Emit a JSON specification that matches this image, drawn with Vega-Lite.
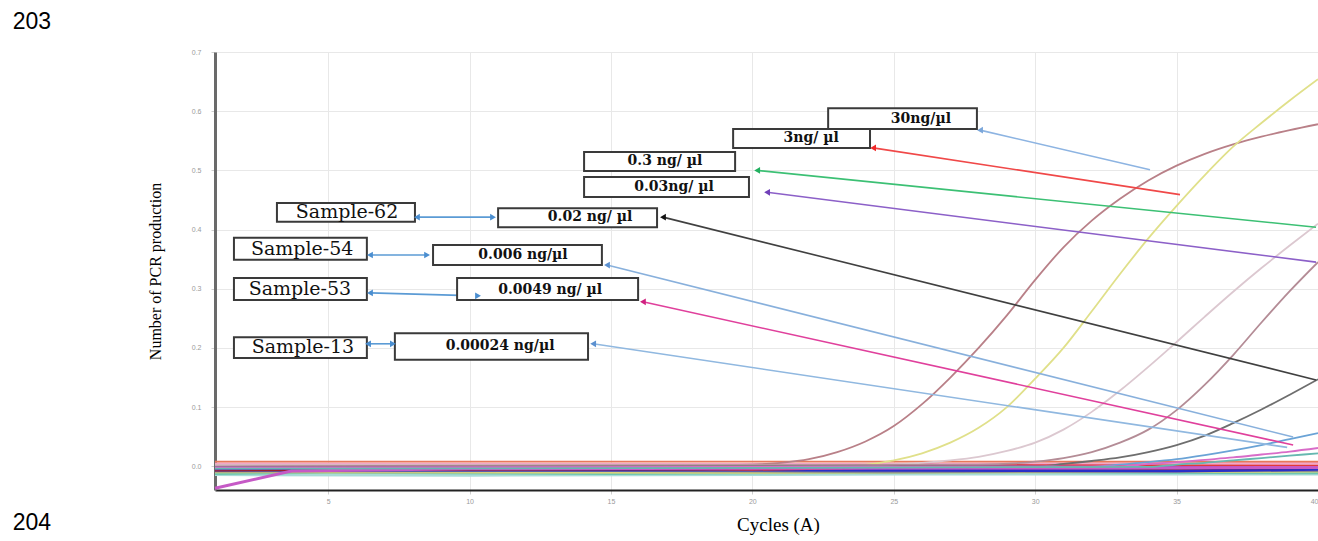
{
  "$schema": "https://vega.github.io/schema/vega-lite/v6.json",
  "width": 1103,
  "height": 438,
  "autosize": {"type": "none"},
  "padding": {"left": 215, "top": 52, "right": 0, "bottom": 51},
  "background": "white",
  "config": {"view": {"stroke": null}, "font": "Liberation Serif"},
  "datasets": {
    "curves": [
      {"s":"C0","c":1,"v":0.008},{"s":"C0","c":40,"v":0.008},
      {"s":"C1","c":1,"v":0.002},{"s":"C1","c":10,"v":0.002},{"s":"C1","c":18,"v":0.002},{"s":"C1","c":20,"v":0.003},{"s":"C1","c":21,"v":0.006},{"s":"C1","c":22,"v":0.012},{"s":"C1","c":23,"v":0.024},{"s":"C1","c":24,"v":0.042},{"s":"C1","c":25,"v":0.068},{"s":"C1","c":26,"v":0.105},{"s":"C1","c":27,"v":0.15},{"s":"C1","c":28,"v":0.2},{"s":"C1","c":29,"v":0.255},{"s":"C1","c":30,"v":0.315},{"s":"C1","c":31,"v":0.37},{"s":"C1","c":32,"v":0.415},{"s":"C1","c":33,"v":0.452},{"s":"C1","c":34,"v":0.483},{"s":"C1","c":35,"v":0.508},{"s":"C1","c":36,"v":0.528},{"s":"C1","c":37,"v":0.544},{"s":"C1","c":38,"v":0.557},{"s":"C1","c":39,"v":0.568},{"s":"C1","c":40,"v":0.578},
      {"s":"C2","c":1,"v":0.0},{"s":"C2","c":20,"v":0.0},{"s":"C2","c":24,"v":0.003},{"s":"C2","c":25,"v":0.01},{"s":"C2","c":26,"v":0.022},{"s":"C2","c":27,"v":0.04},{"s":"C2","c":28,"v":0.065},{"s":"C2","c":29,"v":0.1},{"s":"C2","c":30,"v":0.148},{"s":"C2","c":31,"v":0.2},{"s":"C2","c":32,"v":0.262},{"s":"C2","c":33,"v":0.325},{"s":"C2","c":34,"v":0.385},{"s":"C2","c":35,"v":0.44},{"s":"C2","c":36,"v":0.492},{"s":"C2","c":37,"v":0.54},{"s":"C2","c":38,"v":0.58},{"s":"C2","c":39,"v":0.618},{"s":"C2","c":40,"v":0.654},
      {"s":"C3","c":1,"v":0.002},{"s":"C3","c":24,"v":0.002},{"s":"C3","c":26,"v":0.006},{"s":"C3","c":27,"v":0.01},{"s":"C3","c":28,"v":0.016},{"s":"C3","c":29,"v":0.026},{"s":"C3","c":30,"v":0.04},{"s":"C3","c":31,"v":0.062},{"s":"C3","c":32,"v":0.092},{"s":"C3","c":33,"v":0.128},{"s":"C3","c":34,"v":0.168},{"s":"C3","c":35,"v":0.21},{"s":"C3","c":36,"v":0.253},{"s":"C3","c":37,"v":0.295},{"s":"C3","c":38,"v":0.335},{"s":"C3","c":39,"v":0.373},{"s":"C3","c":40,"v":0.41},
      {"s":"C4","c":1,"v":0.0},{"s":"C4","c":28,"v":0.003},{"s":"C4","c":30,"v":0.008},{"s":"C4","c":31,"v":0.014},{"s":"C4","c":32,"v":0.024},{"s":"C4","c":33,"v":0.04},{"s":"C4","c":34,"v":0.062},{"s":"C4","c":35,"v":0.095},{"s":"C4","c":36,"v":0.138},{"s":"C4","c":37,"v":0.188},{"s":"C4","c":38,"v":0.243},{"s":"C4","c":39,"v":0.296},{"s":"C4","c":40,"v":0.345},
      {"s":"C5","c":1,"v":-0.001},{"s":"C5","c":30,"v":0.0},{"s":"C5","c":31,"v":0.004},{"s":"C5","c":32,"v":0.009},{"s":"C5","c":33,"v":0.015},{"s":"C5","c":34,"v":0.024},{"s":"C5","c":35,"v":0.036},{"s":"C5","c":36,"v":0.052},{"s":"C5","c":37,"v":0.073},{"s":"C5","c":38,"v":0.096},{"s":"C5","c":39,"v":0.121},{"s":"C5","c":40,"v":0.147},
      {"s":"C6","c":1,"v":-0.003},{"s":"C6","c":32,"v":-0.001},{"s":"C6","c":33,"v":0.003},{"s":"C6","c":34,"v":0.007},{"s":"C6","c":35,"v":0.012},{"s":"C6","c":36,"v":0.019},{"s":"C6","c":37,"v":0.027},{"s":"C6","c":38,"v":0.036},{"s":"C6","c":39,"v":0.046},{"s":"C6","c":40,"v":0.056},
      {"s":"C7","c":1,"v":-0.002},{"s":"C7","c":33,"v":0.0},{"s":"C7","c":34,"v":0.004},{"s":"C7","c":35,"v":0.007},{"s":"C7","c":36,"v":0.011},{"s":"C7","c":37,"v":0.015},{"s":"C7","c":38,"v":0.02},{"s":"C7","c":39,"v":0.025},{"s":"C7","c":40,"v":0.031},
      {"s":"C8","c":1,"v":-0.004},{"s":"C8","c":34,"v":-0.001},{"s":"C8","c":35,"v":0.003},{"s":"C8","c":36,"v":0.006},{"s":"C8","c":37,"v":0.01},{"s":"C8","c":38,"v":0.014},{"s":"C8","c":39,"v":0.018},{"s":"C8","c":40,"v":0.022}
    ],
    "base": [
      {"s":"b7","c":1,"v":-0.014},{"s":"b7","c":10,"v":-0.015},{"s":"b7","c":25,"v":-0.013},{"s":"b7","c":40,"v":-0.013},
      {"s":"b6","c":1,"v":-0.012},{"s":"b6","c":5,"v":-0.01},{"s":"b6","c":15,"v":-0.012},{"s":"b6","c":30,"v":-0.009},{"s":"b6","c":40,"v":-0.011},
      {"s":"b11","c":1,"v":-0.009},{"s":"b11","c":20,"v":-0.01},{"s":"b11","c":40,"v":-0.008},
      {"s":"b8","c":1,"v":-0.008},{"s":"b8","c":15,"v":-0.007},{"s":"b8","c":25,"v":-0.009},{"s":"b8","c":40,"v":-0.007},
      {"s":"b9","c":1,"v":-0.003},{"s":"b9","c":15,"v":-0.004},{"s":"b9","c":28,"v":-0.006},{"s":"b9","c":40,"v":-0.004},
      {"s":"b10","c":1,"v":0.004},{"s":"b10","c":20,"v":0.003},{"s":"b10","c":40,"v":0.005},
      {"s":"b5","c":1,"v":-0.006},{"s":"b5","c":20,"v":-0.006},{"s":"b5","c":35,"v":-0.008},{"s":"b5","c":40,"v":-0.005},
      {"s":"b4","c":1,"v":0.0},{"s":"b4","c":12,"v":-0.003},{"s":"b4","c":20,"v":-0.005},{"s":"b4","c":28,"v":0.001},{"s":"b4","c":40,"v":0.0},
      {"s":"b3","c":1,"v":-0.006},{"s":"b3","c":10,"v":-0.005},{"s":"b3","c":18,"v":-0.004},{"s":"b3","c":26,"v":0.002},{"s":"b3","c":34,"v":-0.003},{"s":"b3","c":40,"v":-0.002},
      {"s":"b2","c":1,"v":-0.004},{"s":"b2","c":8,"v":-0.002},{"s":"b2","c":14,"v":0.0},{"s":"b2","c":22,"v":-0.001},{"s":"b2","c":30,"v":-0.003},{"s":"b2","c":40,"v":-0.002},
      {"s":"m0","c":1,"v":-0.037},{"s":"m0","c":3.7,"v":-0.008},{"s":"m0","c":10,"v":-0.004},{"s":"m0","c":40,"v":-0.002}
    ],
    "arrows": [
      {"a":"A1","c":34.06,"v":0.501,"c2":28.05,"v2":0.568},
      {"a":"A2","c":35.12,"v":0.459,"c2":24.27,"v2":0.538},
      {"a":"A3","c":39.93,"v":0.404,"c2":20.17,"v2":0.5},
      {"a":"A4","c":39.93,"v":0.345,"c2":20.52,"v2":0.463},
      {"a":"A5","c":39.93,"v":0.146,"c2":16.84,"v2":0.421},
      {"a":"A6","c":39.12,"v":0.0495,"c2":14.86,"v2":0.34},
      {"a":"A7","c":39.12,"v":0.036,"c2":16.13,"v2":0.278},
      {"a":"A8","c":38.91,"v":0.032,"c2":14.37,"v2":0.207},
      {"a":"D","c":8.14,"v":0.421,"c2":10.83,"v2":0.421},
      {"a":"D","c":6.48,"v":0.357,"c2":8.5,"v2":0.357},
      {"a":"D","c":6.48,"v":0.293,"c2":10.3,"v2":0.288},
      {"a":"D","c":6.41,"v":0.207,"c2":7.29,"v2":0.207}
    ],
    "heads": [
      {"a":"A1","c":28.05,"v":0.568,"d":"L"},
      {"a":"A2","c":24.27,"v":0.538,"d":"L"},
      {"a":"A3","c":20.17,"v":0.5,"d":"L"},
      {"a":"A4","c":20.52,"v":0.463,"d":"L"},
      {"a":"A5","c":16.84,"v":0.421,"d":"L"},
      {"a":"A6","c":14.86,"v":0.34,"d":"L"},
      {"a":"A7","c":16.13,"v":0.278,"d":"L"},
      {"a":"A8","c":14.37,"v":0.207,"d":"L"},
      {"a":"D","c":8.14,"v":0.421,"d":"L"},
      {"a":"D","c":10.83,"v":0.421,"d":"R"},
      {"a":"D","c":6.48,"v":0.357,"d":"L"},
      {"a":"D","c":8.5,"v":0.357,"d":"R"},
      {"a":"D","c":6.48,"v":0.293,"d":"L"},
      {"a":"D","c":10.3,"v":0.288,"d":"R"},
      {"a":"D","c":6.41,"v":0.207,"d":"L"},
      {"a":"D","c":7.29,"v":0.207,"d":"R"}
    ],
    "boxes": [
      {"k":"30","c":22.68,"v":0.605,"c2":27.94,"v2":0.57},
      {"k":"3","c":19.32,"v":0.57,"c2":24.16,"v2":0.538},
      {"k":"0.3","c":14.05,"v":0.531,"c2":19.39,"v2":0.499},
      {"k":"0.03","c":14.05,"v":0.489,"c2":19.88,"v2":0.455},
      {"k":"0.02","c":11.01,"v":0.436,"c2":16.63,"v2":0.404},
      {"k":"S62","c":3.19,"v":0.445,"c2":8.07,"v2":0.413},
      {"k":"S54","c":1.67,"v":0.386,"c2":6.37,"v2":0.349},
      {"k":"0.006","c":8.71,"v":0.374,"c2":14.68,"v2":0.34},
      {"k":"S53","c":1.67,"v":0.318,"c2":6.37,"v2":0.281},
      {"k":"0.0049","c":9.56,"v":0.318,"c2":15.96,"v2":0.281},
      {"k":"S13","c":1.67,"v":0.218,"c2":6.37,"v2":0.183},
      {"k":"0.00024","c":7.36,"v":0.225,"c2":14.19,"v2":0.18}
    ],
    "numlabels": [
      {"label":"30ng/µl","c":25.96,"v":0.587},
      {"label":"3ng/ µl","c":22.08,"v":0.554},
      {"label":"0.3 ng/ µl","c":16.91,"v":0.516},
      {"label":"0.03ng/ µl","c":17.23,"v":0.472},
      {"label":"0.02 ng/ µl","c":14.26,"v":0.421},
      {"label":"0.006 ng/µl","c":11.89,"v":0.357},
      {"label":"0.0049  ng/ µl","c":12.85,"v":0.298},
      {"label":"0.00024 ng/µl","c":11.08,"v":0.203}
    ],
    "samplelabels": [
      {"label":"Sample-62","c":5.67,"v":0.429},
      {"label":"Sample-54","c":4.08,"v":0.367},
      {"label":"Sample-53","c":4.0,"v":0.3},
      {"label":"Sample-13","c":4.11,"v":0.201}
    ],
    "pages": [
      {"label":"203","c":-6.15,"v":0.7506},
      {"label":"204","c":-6.15,"v":-0.0957}
    ]
  },
  "encoding": {
    "x": {
      "field": "c", "type": "quantitative",
      "scale": {"domain": [1, 40], "nice": false, "zero": false},
      "axis": {
        "title": "Cycles (A)", "values": [5, 10, 15, 20, 25, 30, 35, 40],
        "labelFontSize": 7, "labelColor": "#9a9a9a", "labelFont": "Liberation Sans", "labelPadding": 3,
        "tickColor": "#cfcfcf", "tickSize": 4,
        "domainColor": "#222222", "domainWidth": 2,
        "grid": true, "gridColor": "#e8e8e8",
        "titleFont": "Liberation Serif", "titleFontSize": 19, "titleFontWeight": "normal", "titleColor": "#000000",
        "titleX": 563, "titleY": 34, "titleBaseline": "middle", "titleAlign": "center"
      }
    },
    "y": {
      "field": "v", "type": "quantitative",
      "scale": {"domain": [-0.04, 0.7], "nice": false, "zero": false},
      "axis": {
        "title": "Number of PCR production", "values": [0, 0.1, 0.2, 0.3, 0.4, 0.5, 0.6, 0.7], "format": ".1f",
        "labelFontSize": 7, "labelColor": "#9a9a9a", "labelFont": "Liberation Sans", "labelPadding": 10,
        "tickColor": "#cfcfcf", "tickSize": 4,
        "domainColor": "#6a6a6a", "domainWidth": 3,
        "grid": true, "gridColor": "#e8e8e8",
        "titleFont": "Liberation Serif", "titleFontSize": 16, "titleFontWeight": "normal", "titleColor": "#000000",
        "titleX": -60, "titleY": 219, "titleAngle": -90, "titleBaseline": "middle", "titleAlign": "center"
      }
    }
  },
  "layer": [
    {
      "data": {"name": "base"},
      "mark": {"type": "line", "strokeWidth": 3},
      "encoding": {
        "color": {"field": "s", "type": "nominal", "legend": null,
          "scale": {"domain": ["b7","b6","b11","b8","b9","b10","b5","b4","b3","b2","m0"],
                    "range": ["#a8dcd8","#6cc6b0","#dcd27a","#8c8c8c","#f4a462","#f2a6c8","#2a30c8","#e23838","#9c2030","#6b2fb0","#c65ac6"]}}
      }
    },
    {
      "data": {"name": "curves"},
      "mark": {"type": "line", "strokeWidth": 1.8, "interpolate": "monotone"},
      "encoding": {
        "color": {"field": "s", "type": "nominal", "legend": null,
          "scale": {"domain": ["C0","C1","C2","C3","C4","C5","C6","C7","C8"],
                    "range": ["#e8785a","#b98088","#e0e08a","#dcc8d0","#b48c96","#6e6e6e","#6aa3d6","#d86cc8","#66b8b0"]}}
      }
    },
    {
      "data": {"name": "arrows"},
      "mark": {"type": "rule", "strokeWidth": 1.6},
      "encoding": {
        "x2": {"field": "c2"},
        "y2": {"field": "v2"},
        "color": {"field": "a", "type": "nominal", "legend": null,
          "scale": {"domain": ["A1","A2","A3","A4","A5","A6","A7","A8","D"],
                    "range": ["#8db4e2","#f04848","#3cc074","#8c60c8","#404040","#88b0dc","#e0409c","#90b8e0","#5b9bd5"]}}
      }
    },
    {
      "data": {"name": "boxes"},
      "mark": {"type": "rect", "fill": "#ffffff", "stroke": "#3a3a3a", "strokeWidth": 2},
      "encoding": {
        "x2": {"field": "c2"},
        "y2": {"field": "v2"}
      }
    },
    {
      "data": {"name": "heads"},
      "mark": {"type": "point", "filled": true, "size": 45, "opacity": 1},
      "encoding": {
        "shape": {"field": "d", "type": "nominal", "legend": null,
          "scale": {"domain": ["L","R"], "range": ["triangle-left","triangle-right"]}},
        "color": {"field": "a", "type": "nominal", "legend": null,
          "scale": {"domain": ["A1","A2","A3","A4","A5","A6","A7","A8","D"],
                    "range": ["#7aa6da","#f02828","#22b060","#7040b8","#111111","#5b90d0","#d0207f","#5b90d0","#4a8ed0"]}}
      }
    },
    {
      "data": {"name": "numlabels"},
      "mark": {"type": "text", "font": "DejaVu Serif", "fontWeight": "bold", "fontSize": 14, "align": "center", "baseline": "middle", "color": "#111111"},
      "encoding": {"text": {"field": "label"}}
    },
    {
      "data": {"name": "samplelabels"},
      "mark": {"type": "text", "font": "DejaVu Serif", "fontSize": 19, "align": "center", "baseline": "middle", "color": "#111111"},
      "encoding": {"text": {"field": "label"}}
    },
    {
      "data": {"name": "pages"},
      "mark": {"type": "text", "font": "Liberation Sans", "fontSize": 23, "align": "left", "baseline": "middle", "color": "#000000"},
      "encoding": {"text": {"field": "label"}}
    }
  ],
  "resolve": {"scale": {"color": "independent", "shape": "independent"}}
}
